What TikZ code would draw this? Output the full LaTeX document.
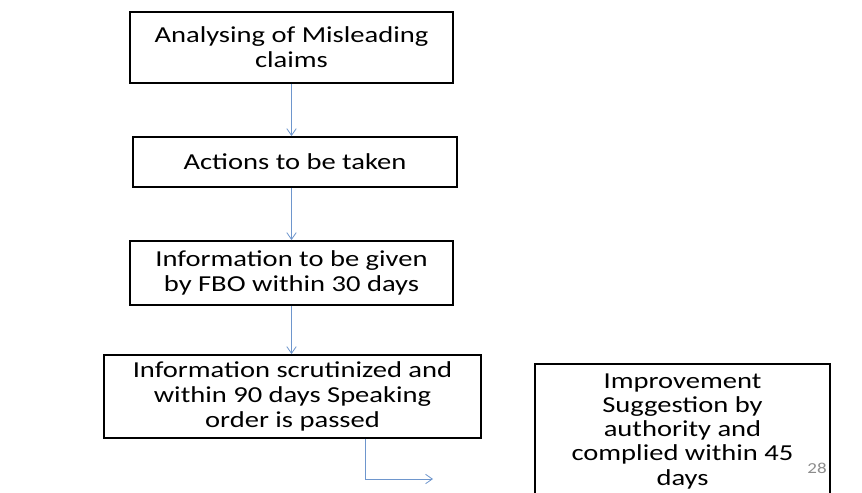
\documentclass[tikz,border=0pt]{standalone}
\usepackage{fontspec}
\setmainfont{Carlito}[FakeStretch=1.25]
\usetikzlibrary{arrows.meta}

\definecolor{flowblue}{RGB}{110,150,205}

\tikzset{
  stepbox/.style={draw, line width=1.6pt, align=center, inner sep=0pt,
    font=\fontsize{19.5}{21.4}\selectfont},
  flow/.style={draw=flowblue, line width=0.7pt,
    arrows={-Straight Barb[angle=70:7pt]}}
}

\begin{document}
\begin{tikzpicture}[x=0.03cm, y=-0.03cm]
        \useasboundingbox (0,0) rectangle (862,492);
        \clip (0,0) rectangle (862,492);
        \node[stepbox, minimum width=323*0.03cm, minimum height=71*0.03cm]
          (analyse) at (291.5,47.5) {Analysing of Misleading\\claims};
        \node[stepbox, minimum width=324*0.03cm, minimum height=50*0.03cm]
          (action) at (295,162) {Actions to be taken};
        \node[stepbox, minimum width=323*0.03cm, minimum height=64*0.03cm]
          (info) at (291.5,273) {Information to be given\\by FBO within 30 days};
        \node[stepbox, minimum width=377*0.03cm, minimum height=83*0.03cm]
          (scrutiny) at (292.5,396.5) {Information scrutinized and\\within 90 days Speaking\\order is passed};
        \node[stepbox, minimum width=295*0.03cm, minimum height=134*0.03cm, anchor=north]
          (improve) at (682.5,363) {};
        \node[font=\fontsize{19.5}{20.6}\selectfont, align=center, anchor=base, inner sep=0pt]
          (improvetext) at (682.5,485) {Improvement\\Suggestion by\\authority and\\complied within 45\\days};
        \node[font=\fontsize{13}{15}\selectfont, text=gray!90] (page) at (817,468) {28};
        % arrows between the steps
        \draw[flow] (analyse.south) -- (analyse.south |- action.north);
        \draw[flow] (analyse.south |- action.south) -- (analyse.south |- info.north);
        \draw[flow] (info.south) -- (info.south |- scrutiny.north);
        \coordinate (turn) at (365,479);
        \coordinate (loose) at (433,479);
        \draw[flow] (scrutiny.south -| turn) -- (turn) -- (loose);
      \end{tikzpicture}
\end{document}
